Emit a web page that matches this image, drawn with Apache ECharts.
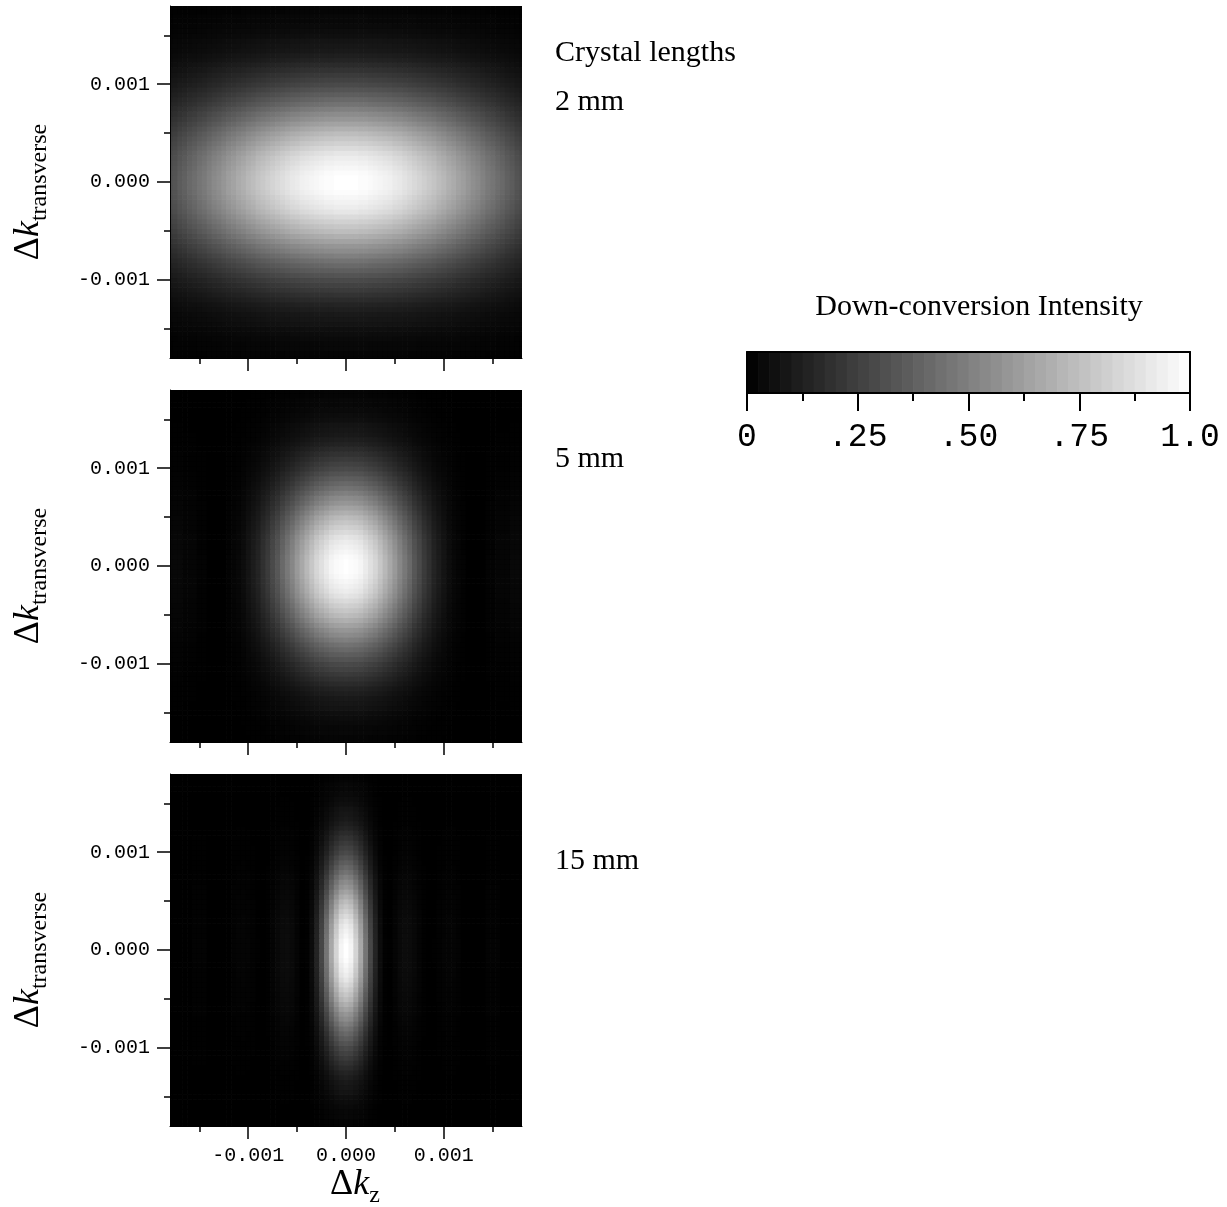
<!DOCTYPE html>
<html>
<head>
<meta charset="utf-8">
<script src="https://cdn.jsdelivr.net/npm/echarts@6/dist/echarts.min.js"></script>
<style>
html,body{margin:0;padding:0;background:#fff;}
#chart{width:1227px;height:1207px;}
</style>
</head>
<body>
<div id="chart"></div>
<script>
// ---------------- data ----------------
const PANEL_LABELS = ['2 mm', '5 mm', '15 mm'];
const AXIS_MIN = -0.0018, AXIS_MAX = 0.0018;
const TICK_VALUES = [-0.001, 0, 0.001];
const TICK_LABELS = ['-0.001', '0.000', '0.001'];
const MINOR_TICK_VALUES = [-0.0015, -0.0005, 0.0005, 0.0015];
const COLORBAR_TICK_VALUES = [0, 0.25, 0.5, 0.75, 1];
const COLORBAR_TICK_LABELS = ['0', '.25', '.50', '.75', '1.0'];

// sample grid: first sample and spacing (Δk units), samples run -0.0018 … 0.0018
const SAMPLE_START = -0.0018;
const SAMPLE_STEP = 0.00005;

// intensity profile along Δk_z through the centre row
const X_2MM = [0.31,0.33,0.36,0.38,0.41,0.43,0.46,0.48,0.51,0.54,0.56,0.59,0.62,0.64,0.67,0.69,0.72,0.74,
  0.77,0.79,0.81,0.83,0.85,0.87,0.89,0.91,0.92,0.94,0.95,0.96,0.97,0.98,0.99,0.99,1.00,1.00,
  1.00,
  1.00,1.00,0.99,0.99,0.98,0.97,0.96,0.95,0.94,0.92,0.91,0.89,0.87,0.85,0.83,0.81,0.79,0.77,
  0.74,0.72,0.69,0.67,0.64,0.62,0.59,0.56,0.54,0.51,0.48,0.46,0.43,0.41,0.38,0.36,0.33,0.31];
const X_5MM = [0.03,0.03,0.03,0.02,0.02,0.02,0.01,0.01,0.00,0.00,0.00,0.00,0.01,0.02,0.03,0.05,0.08,0.11,
  0.14,0.19,0.23,0.29,0.34,0.41,0.47,0.53,0.60,0.66,0.72,0.78,0.84,0.88,0.92,0.96,0.98,0.99,
  1.00,
  0.99,0.98,0.96,0.92,0.88,0.84,0.78,0.72,0.66,0.60,0.53,0.47,0.41,0.34,0.29,0.23,0.19,0.14,
  0.11,0.08,0.05,0.03,0.02,0.01,0.00,0.00,0.00,0.00,0.01,0.01,0.02,0.02,0.02,0.03,0.03,0.03];
const X_15MM = [0.00,0.00,0.00,0.00,0.00,0.01,0.01,0.01,0.00,0.00,0.00,0.00,0.00,0.01,0.015,0.016,0.014,0.008,
  0.002,0.00,0.005,0.017,0.032,0.044,0.047,0.037,0.018,0.002,0.006,0.047,0.14,0.28,0.46,0.66,0.83,0.96,
  1.00,
  0.96,0.83,0.66,0.46,0.28,0.14,0.047,0.006,0.002,0.018,0.037,0.047,0.044,0.032,0.017,0.005,0.00,0.002,
  0.008,0.014,0.016,0.015,0.01,0.00,0.00,0.00,0.00,0.00,0.01,0.01,0.01,0.00,0.00,0.00,0.00,0.00];
// intensity profile along Δk_transverse through the centre column
const Y_2MM = [0.02,0.02,0.03,0.03,0.04,0.05,0.06,0.08,0.09,0.10,0.12,0.14,0.17,0.20,0.23,0.26,0.29,0.33,
  0.37,0.41,0.45,0.50,0.55,0.59,0.64,0.69,0.74,0.78,0.82,0.86,0.90,0.93,0.95,0.97,0.99,1.00,
  1.00,
  1.00,0.99,0.97,0.95,0.93,0.90,0.86,0.82,0.78,0.74,0.69,0.64,0.59,0.55,0.50,0.45,0.41,0.37,
  0.33,0.29,0.26,0.23,0.20,0.17,0.14,0.12,0.10,0.09,0.08,0.06,0.05,0.04,0.03,0.03,0.02,0.02];
const Y_5MM = [0.02,0.02,0.03,0.03,0.04,0.05,0.06,0.08,0.09,0.10,0.12,0.14,0.17,0.20,0.23,0.26,0.29,0.33,
  0.37,0.41,0.45,0.50,0.55,0.59,0.64,0.69,0.74,0.78,0.82,0.86,0.90,0.93,0.95,0.97,0.99,1.00,
  1.00,
  1.00,0.99,0.97,0.95,0.93,0.90,0.86,0.82,0.78,0.74,0.69,0.64,0.59,0.55,0.50,0.45,0.41,0.37,
  0.33,0.29,0.26,0.23,0.20,0.17,0.14,0.12,0.10,0.09,0.08,0.06,0.05,0.04,0.03,0.03,0.02,0.02];
const Y_15MM = [0.02,0.02,0.03,0.03,0.04,0.05,0.06,0.08,0.09,0.10,0.12,0.14,0.17,0.20,0.23,0.26,0.29,0.33,
  0.37,0.41,0.45,0.50,0.55,0.59,0.64,0.69,0.74,0.78,0.82,0.86,0.90,0.93,0.95,0.97,0.99,1.00,
  1.00,
  1.00,0.99,0.97,0.95,0.93,0.90,0.86,0.82,0.78,0.74,0.69,0.64,0.59,0.55,0.50,0.45,0.41,0.37,
  0.33,0.29,0.26,0.23,0.20,0.17,0.14,0.12,0.10,0.09,0.08,0.06,0.05,0.04,0.03,0.03,0.02,0.02];

// colour-bar levels (centre of each swatch)
const COLORBAR_LEVELS = [0.0125,0.0375,0.0625,0.0875,0.1125,0.1375,0.1625,0.1875,0.2125,0.2375,
  0.2625,0.2875,0.3125,0.3375,0.3625,0.3875,0.4125,0.4375,0.4625,0.4875,
  0.5125,0.5375,0.5625,0.5875,0.6125,0.6375,0.6625,0.6875,0.7125,0.7375,
  0.7625,0.7875,0.8125,0.8375,0.8625,0.8875,0.9125,0.9375,0.9625,0.9875];
const COLORBAR_STEP = 0.025;

// ---------------- build tables ----------------
function buildTable(xp, yp) {
  const out = [];
  for (let j = 0; j < yp.length; j++) {
    for (let i = 0; i < xp.length; i++) {
      out.push([SAMPLE_START + i * SAMPLE_STEP, SAMPLE_START + j * SAMPLE_STEP, xp[i] * yp[j]]);
    }
  }
  return out;
}
const PANELS = [
  buildTable(X_2MM, Y_2MM),
  buildTable(X_5MM, Y_5MM),
  buildTable(X_15MM, Y_15MM)
];
const colorbarData = COLORBAR_LEVELS.map(v => [v, 0.5, v]);

function cellRenderer(dx, dy) {
  return function (params, api) {
    const x = api.value(0), y = api.value(1);
    const p0 = api.coord([x - dx / 2, y + dy / 2]);
    const p1 = api.coord([x + dx / 2, y - dy / 2]);
    const cs = params.coordSys;
    const rect = echarts.graphic.clipRectByRect(
      { x: p0[0], y: p0[1], width: p1[0] - p0[0] + 0.7, height: p1[1] - p0[1] + 0.7 },
      { x: cs.x, y: cs.y, width: cs.width, height: cs.height });
    if (!rect) return;
    return { type: 'rect', shape: rect, style: { fill: api.visual('color') } };
  };
}

function tickLabel(v) {
  for (let i = 0; i < TICK_VALUES.length; i++) {
    if (Math.abs(TICK_VALUES[i] - v) < 1e-9) return TICK_LABELS[i];
  }
  return '';
}
function cbLabel(v) {
  for (let i = 0; i < COLORBAR_TICK_VALUES.length; i++) {
    if (Math.abs(COLORBAR_TICK_VALUES[i] - v) < 1e-9) return COLORBAR_TICK_LABELS[i];
  }
  return '';
}

// ---------------- layout ----------------
const MONO = '"Liberation Mono", "DejaVu Sans Mono", monospace';
const SERIF = '"Liberation Serif", "DejaVu Serif", serif';
const PANEL_TOPS = [6, 390, 774];
const PANEL_LEFT = 170, PANEL_SIZE = 352;
const LABEL_Y = [53, 102, 459, 861];

const grids = PANEL_TOPS.map(t => ({ left: PANEL_LEFT, top: t, width: PANEL_SIZE, height: PANEL_SIZE, outerBoundsMode: 'none', containLabel: false }));
grids.push({ left: 747, top: 352, width: 443, height: 41, outerBoundsMode: 'none', containLabel: false });

const tickLine = { color: '#000', width: 1.5 };
const xAxes = [], yAxes = [];
PANEL_TOPS.forEach((t, gi) => {
  const last = gi === PANEL_TOPS.length - 1;
  xAxes.push({
    gridIndex: gi, type: 'value', min: AXIS_MIN, max: AXIS_MAX, position: 'bottom', z: 10,
    axisLine: { show: true, onZero: false, lineStyle: { color: '#000', width: 1 } },
    axisTick: { show: true, customValues: TICK_VALUES, length: 13, lineStyle: tickLine },
    axisLabel: { show: last, customValues: TICK_VALUES, margin: 20, fontFamily: MONO, fontSize: 20, color: '#000', formatter: tickLabel },
    splitLine: { show: false }
  });
  xAxes.push({
    gridIndex: gi, type: 'value', min: AXIS_MIN, max: AXIS_MAX, position: 'bottom', z: 10,
    axisLine: { show: false, onZero: false },
    axisTick: { show: true, customValues: MINOR_TICK_VALUES, length: 6, lineStyle: tickLine },
    axisLabel: { show: false },
    splitLine: { show: false }
  });
  yAxes.push({
    gridIndex: gi, type: 'value', min: AXIS_MIN, max: AXIS_MAX, position: 'left', z: 10,
    axisLine: { show: true, onZero: false, lineStyle: { color: '#000', width: 1 } },
    axisTick: { show: true, customValues: TICK_VALUES, length: 13, lineStyle: tickLine },
    axisLabel: { show: true, customValues: TICK_VALUES, margin: 20, fontFamily: MONO, fontSize: 20, color: '#000', formatter: tickLabel },
    splitLine: { show: false }
  });
  yAxes.push({
    gridIndex: gi, type: 'value', min: AXIS_MIN, max: AXIS_MAX, position: 'left', z: 10,
    axisLine: { show: false, onZero: false },
    axisTick: { show: true, customValues: MINOR_TICK_VALUES, length: 6, lineStyle: tickLine },
    axisLabel: { show: false },
    splitLine: { show: false }
  });
});
// colour bar axes
const cbLine = { color: '#000', width: 2 };
xAxes.push({
  gridIndex: 3, type: 'value', min: 0, max: 1, interval: 0.25, position: 'bottom', z: 10,
  axisLine: { show: true, onZero: false, lineStyle: cbLine },
  axisTick: { show: true, length: 18, lineStyle: cbLine },
  minorTick: { show: true, splitNumber: 2, length: 8, lineStyle: cbLine },
  axisLabel: { show: true, margin: 28, fontFamily: MONO, fontSize: 33, color: '#000', formatter: cbLabel },
  splitLine: { show: false }, minorSplitLine: { show: false }
});
xAxes.push({
  gridIndex: 3, type: 'value', min: 0, max: 1, position: 'top', z: 10,
  axisLine: { show: true, onZero: false, lineStyle: cbLine },
  axisTick: { show: false }, axisLabel: { show: false }, splitLine: { show: false }
});
yAxes.push({
  gridIndex: 3, type: 'value', min: 0, max: 1, position: 'left', z: 10,
  axisLine: { show: true, onZero: false, lineStyle: cbLine },
  axisTick: { show: false }, axisLabel: { show: false }, splitLine: { show: false }
});
yAxes.push({
  gridIndex: 3, type: 'value', min: 0, max: 1, position: 'right', z: 10,
  axisLine: { show: true, onZero: false, lineStyle: cbLine },
  axisTick: { show: false }, axisLabel: { show: false }, splitLine: { show: false }
});

const series = PANELS.map((data, gi) => ({
  type: 'custom', xAxisIndex: gi * 2, yAxisIndex: gi * 2, silent: true, z: 2,
  renderItem: cellRenderer(SAMPLE_STEP, SAMPLE_STEP), data: data, animation: false, progressive: 0
}));
series.push({
  type: 'custom', xAxisIndex: 6, yAxisIndex: 6, silent: true, z: 2,
  renderItem: cellRenderer(COLORBAR_STEP, 1), data: colorbarData, animation: false
});

// axis-title rich text styles
const rich = {
  d: { fontFamily: SERIF, fontSize: 36, lineHeight: 40, verticalAlign: 'bottom', padding: [0, 0, 5, 0], fill: '#000' },
  k: { fontFamily: SERIF, fontStyle: 'italic', fontSize: 36, lineHeight: 40, verticalAlign: 'bottom', padding: [0, 0, 5, 0], fill: '#000' },
  s: { fontFamily: SERIF, fontSize: 24, lineHeight: 24, verticalAlign: 'bottom', fill: '#000' }
};

const graphic = [];
graphic.push({ type: 'text', x: 555, y: LABEL_Y[0], silent: true,
  style: { text: 'Crystal lengths', font: '30px ' + SERIF, fill: '#000', textAlign: 'left', textVerticalAlign: 'middle' } });
PANEL_LABELS.forEach((t, i) => {
  graphic.push({ type: 'text', x: 555, y: LABEL_Y[i + 1], silent: true,
    style: { text: t, font: '30px ' + SERIF, fill: '#000', textAlign: 'left', textVerticalAlign: 'middle' } });
});
graphic.push({ type: 'text', x: 979, y: 307, silent: true,
  style: { text: 'Down-conversion Intensity', font: '30px ' + SERIF, fill: '#000', textAlign: 'center', textVerticalAlign: 'middle' } });
PANEL_TOPS.forEach(t => {
  graphic.push({ type: 'text', x: 32, y: t + PANEL_SIZE / 2 + 10, rotation: Math.PI / 2, silent: true,
    style: { text: '{d|Δ}{k|k}{s|transverse}', rich: rich, textAlign: 'center', textVerticalAlign: 'middle' } });
});
graphic.push({ type: 'text', x: 355, y: 1188, silent: true,
  style: { text: '{d|Δ}{k|k}{s|z}', rich: rich, textAlign: 'center', textVerticalAlign: 'middle' } });

const chart = echarts.init(document.getElementById('chart'), null, { renderer: 'canvas' });
chart.setOption({
  backgroundColor: '#ffffff',
  animation: false,
  grid: grids,
  xAxis: xAxes,
  yAxis: yAxes,
  visualMap: {
    show: false, type: 'continuous', min: 0, max: 1, dimension: 2,
    seriesIndex: [0, 1, 2, 3], inRange: { color: ['#000000', '#ffffff'] }
  },
  series: series,
  graphic: graphic
});
</script>
</body>
</html>
